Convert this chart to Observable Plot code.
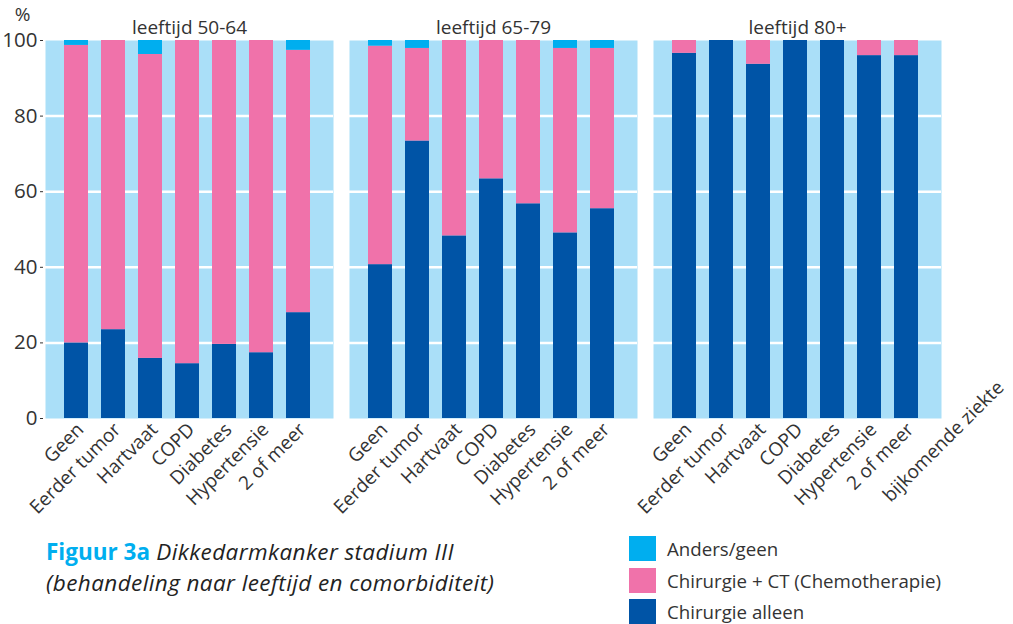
<!DOCTYPE html>
<html>
<head>
<meta charset="utf-8">
<script src="https://cdn.jsdelivr.net/npm/d3@7"></script>
<script src="https://cdn.jsdelivr.net/npm/@observablehq/plot@0.6"></script>
<style>
  body { margin: 0; background: #fff; font-family: "Open Sans", sans-serif; color: #333; }
  #wrap { position: relative; width: 1013px; height: 624px; overflow: hidden; }
  #chart { position: absolute; left: 0; top: 0; }
  #caption { position: absolute; left: 46px; top: 536px; font-size: 22.5px; line-height: 31px; letter-spacing: 0.4px; font-style: italic; color: #222; white-space: nowrap; }
  #caption b { font-style: normal; font-weight: 700; color: #00aeef; letter-spacing: 0; }
  #legend { position: absolute; left: 629px; top: 536px; font-size: 18.7px; color: #333; }
  .row { display: flex; align-items: center; height: 25px; margin-bottom: 6.5px; white-space: nowrap; }
  .sw { width: 27px; height: 25px; margin-right: 11px; flex: none; }
</style>
</head>
<body>
<div id="wrap">
  <div id="chart"></div>
  <div id="caption"><b>Figuur 3a</b> Dikkedarmkanker stadium III<br>(behandeling naar leeftijd en comorbiditeit)</div>
  <div id="legend"></div>
</div>
<script>
const leeftijd = ["leeftijd 50-64", "leeftijd 65-79", "leeftijd 80+"];
const comorbiditeit = ["Geen", "Eerder tumor", "Hartvaat", "COPD", "Diabetes", "Hypertensie", "2 of meer"];
const behandelingen = ["Chirurgie alleen", "Chirurgie + CT (Chemotherapie)", "Anders/geen"];
const legendOrder = ["Anders/geen", "Chirurgie + CT (Chemotherapie)", "Chirurgie alleen"];
const kleuren = ["#0054a6", "#f072aa", "#00aeef"];
// percentages per leeftijdsgroep (rows) en comorbiditeit (columns)
const chirurgieAlleen = [
  [20.0, 23.5, 15.9, 14.5, 19.6, 17.4, 28.0],
  [40.7, 73.4, 48.3, 63.4, 56.8, 49.1, 55.5],
  [96.6, 100, 93.7, 100, 100, 96.0, 96.0]
];
const chirurgieCT = [
  [78.7, 76.5, 80.4, 85.5, 80.4, 82.6, 69.4],
  [57.8, 24.5, 51.7, 36.6, 43.2, 48.8, 42.4],
  [3.4, 0, 6.3, 0, 0, 4.0, 4.0]
];
const andersGeen = [
  [1.3, 0, 3.7, 0, 0, 0, 2.6],
  [1.5, 2.1, 0, 0, 0, 2.1, 2.1],
  [0, 0, 0, 0, 0, 0, 0]
];
const yTicks = [0, 20, 40, 60, 80, 100];
const gridTicks = [20, 40, 60, 80];
const xTitle = "bijkomende ziekte";
const yTitle = "%";

const series = [chirurgieAlleen, chirurgieCT, andersGeen];
const data = [];
leeftijd.forEach((l, i) => comorbiditeit.forEach((c, j) => {
  behandelingen.forEach((b, k) => {
    data.push({leeftijd: l, comorbiditeit: c, behandeling: b, pct: series[k][i][j]});
  });
}));

const chart = Plot.plot({
  width: 1013,
  height: 524,
  marginLeft: 45,
  marginRight: 72,
  marginTop: 40,
  marginBottom: 106,
  style: {fontFamily: "'Open Sans', sans-serif", fontSize: "17px", color: "#333", background: "transparent", overflow: "visible"},
  fx: {domain: leeftijd, paddingInner: 0.053, paddingOuter: 0, label: null},
  x: {domain: comorbiditeit, paddingInner: 0.357, paddingOuter: 0.536, align: 0.45, label: null},
  y: {domain: [0, 100], label: null},
  color: {domain: behandelingen, range: kleuren},
  marks: [
    Plot.frame({fill: "#aadff8", stroke: "none"}),
    Plot.ruleY(gridTicks, {stroke: "white", strokeWidth: 2.5}),
    Plot.barY(data, {fx: "leeftijd", x: "comorbiditeit", y: "pct", fill: "behandeling", order: behandelingen}),
    Plot.axisFx({anchor: "top", tickSize: 0, tickPadding: 7, fontSize: 19, label: null}),
    Plot.axisX({tickRotate: -45, tickSize: 0, tickPadding: 8, fontSize: 19, label: null, dx: 4}),
    Plot.axisY({ticks: yTicks, tickSize: 3, tickPadding: 3, dx: -2, fontSize: 20.5, label: null}),
    Plot.text([yTitle], {fx: [leeftijd[0]], text: d => d, frameAnchor: "top-left", textAnchor: "middle", lineAnchor: "middle", dx: -23, dy: -26, fontSize: 19}),
    Plot.text([xTitle], {fx: [leeftijd[2]], text: d => d, frameAnchor: "bottom-right", textAnchor: "middle", lineAnchor: "middle", rotate: -45, dx: 2, dy: 23, fontSize: 19})
  ]
});
document.getElementById("chart").appendChild(chart);

const legend = document.getElementById("legend");
legendOrder.forEach(b => {
  const row = document.createElement("div");
  row.className = "row";
  const sw = document.createElement("div");
  sw.className = "sw";
  sw.style.background = kleuren[behandelingen.indexOf(b)];
  const t = document.createElement("span");
  t.textContent = b;
  row.appendChild(sw);
  row.appendChild(t);
  legend.appendChild(row);
});
</script>
</body>
</html>
